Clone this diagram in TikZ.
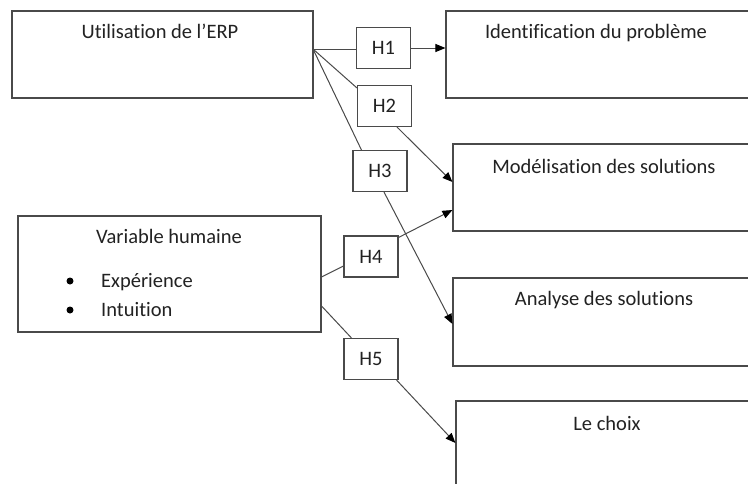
\documentclass[tikz,border=0pt]{standalone}
\usepackage{fontspec}
\setmainfont{Carlito}[Ligatures=NoCommon]
\usetikzlibrary{arrows.meta}
\definecolor{edgegray}{HTML}{4A4A4A}
\definecolor{txt}{HTML}{222222}
\newcommand{\tiX}{t\kern0pt i}
\begin{document}
\begin{tikzpicture}[x=1pt,y=-1pt,
  bigbox/.style={draw=edgegray,line width=1.1pt,inner sep=0pt,rectangle},
  hbox/.style={draw=edgegray,line width=1.1pt,inner sep=0pt,rectangle,
    minimum width=54pt,minimum height=41pt,font=\fontsize{20.5}{24}\selectfont,text=txt},
  lbl/.style={anchor=base,font=\fontsize{20.5}{24}\selectfont,text=txt,inner sep=0pt},
  lbll/.style={anchor=base west,font=\fontsize{20.5}{24}\selectfont,text=txt,inner sep=0pt},
  conn/.style={draw=edgegray,line width=1pt},
  arr/.style={conn,-{Triangle[length=10pt,width=8pt,color=black]}},
  bullet/.style={circle,fill=black,inner sep=0pt,minimum size=7pt}]
\clip (0,0) rectangle (748,483);
\fill[white] (0,0) rectangle (748,483);
% big boxes
\node[bigbox,minimum width=301pt,minimum height=87pt] (erp) at (162.5,54.5) {};
\node[bigbox,minimum width=314pt,minimum height=87pt] (ident) at (603,54.5) {};
\node[bigbox,minimum width=307pt,minimum height=87pt] (model) at (606.5,187.5) {};
\node[bigbox,minimum width=307pt,minimum height=88pt] (anal) at (606.5,322) {};
\node[bigbox,minimum width=304pt,minimum height=99pt] (choix) at (608,450.5) {};
\node[bigbox,minimum width=303pt,minimum height=116pt] (vh) at (169.5,274) {};
% labels
\node[lbl] (terp) at (160,38) {Utilisation de l’ERP};
\node[lbl] (tident) at (596,38) {Identifica\tiX on du problème};
\node[lbl] (tmodel) at (604,173) {Modélisation des solu\tiX ons};
\node[lbl] (tanal) at (604,305) {Analyse des solu\tiX ons};
\node[lbl] (tchoix) at (607,430) {Le choix};
\node[lbl] (tvh) at (169,243) {Variable humaine};
\node[lbll] (texp) at (101,287) {Expérience};
\node[lbll] (tint) at (101,316) {Intui\tiX on};
\node[bullet] (b1) at (70,281) {};
\node[bullet] (b2) at (70,310) {};
% H boxes
\node[hbox] (h1) at (383.5,48) {H1};
\node[hbox] (h2) at (384.5,106) {H2};
\node[hbox] (h3) at (380,171) {H3};
\node[hbox] (h4) at (371,256.5) {H4};
\node[hbox] (h5) at (371,359) {H5};
% connectors
\coordinate (erpout) at (313,49);
\draw[conn] (erpout) -- (erpout -| h1.west);
\draw[arr] (h1.east) -- (h1.east -| ident.west);
\draw[conn] (erpout) -- ([yshift=-3pt]h2.north west);
\draw[arr] ([xshift=12.5pt]h2.south) -- ([yshift=5.5pt]model.west);
\draw[conn] (erpout) -- ([xshift=9pt]h3.north west);
\draw[arr] ([xshift=4pt]h3.south) -- ([yshift=-2pt]anal.west);
\draw[conn] ([yshift=-3pt]vh.east) -- ([yshift=-9.5pt]h4.west);
\draw[arr] ([yshift=-2pt]h4.north east) -- ([yshift=-22.5pt]model.west);
\draw[conn] ([yshift=-32pt]vh.east) -- ([xshift=8pt]h5.north west);
\draw[arr] ([xshift=-2pt]h5.south east) -- ([yshift=7.5pt]choix.west);
\end{tikzpicture}
\end{document}
